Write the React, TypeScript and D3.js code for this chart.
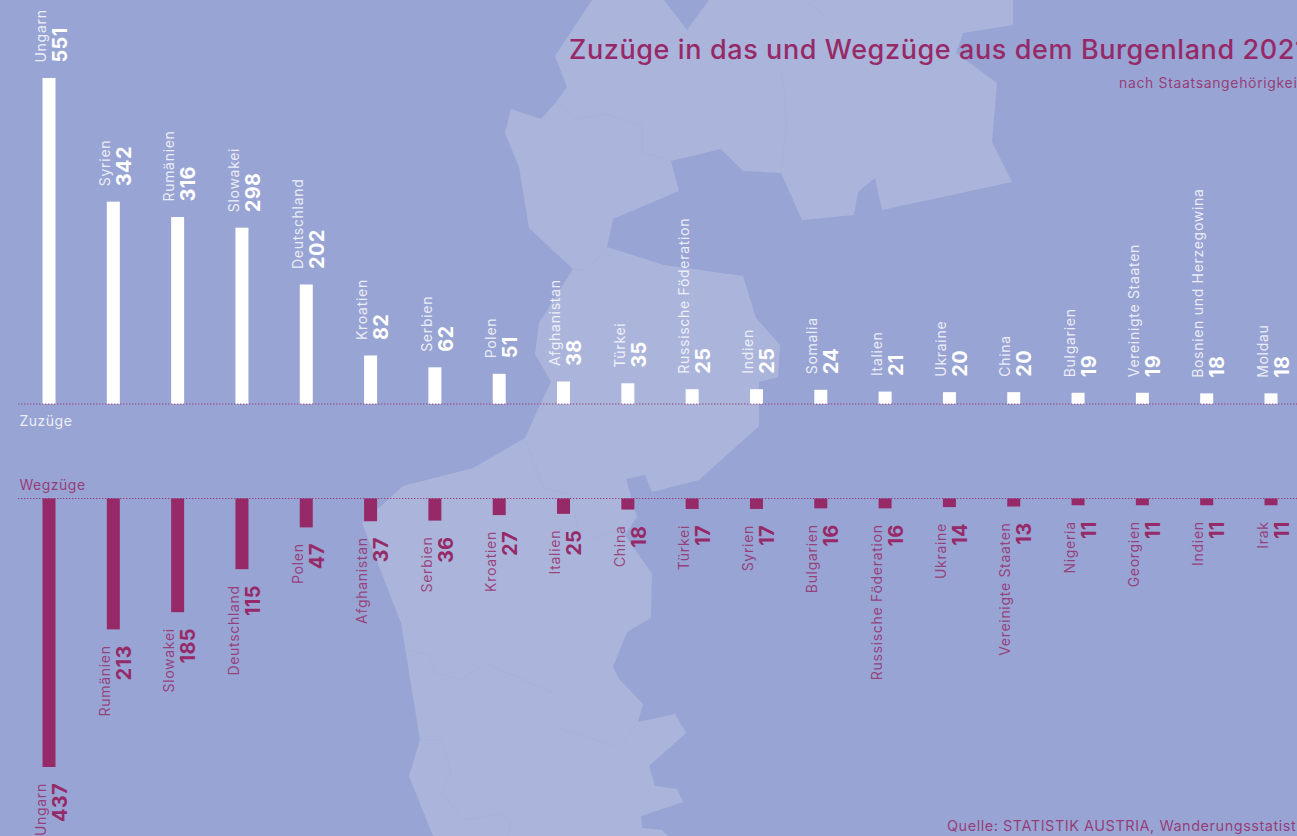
import React from 'react';
import * as d3 from 'd3';

const zuzugLaender = ['Ungarn', 'Syrien', 'Rumänien', 'Slowakei', 'Deutschland', 'Kroatien', 'Serbien', 'Polen', 'Afghanistan', 'Türkei', 'Russische Föderation', 'Indien', 'Somalia', 'Italien', 'Ukraine', 'China', 'Bulgarien', 'Vereinigte Staaten', 'Bosnien und Herzegowina', 'Moldau'];
const zuzugWerte = [551, 342, 316, 298, 202, 82, 62, 51, 38, 35, 25, 25, 24, 21, 20, 20, 19, 19, 18, 18];
const wegzugLaender = ['Ungarn', 'Rumänien', 'Slowakei', 'Deutschland', 'Polen', 'Afghanistan', 'Serbien', 'Kroatien', 'Italien', 'China', 'Türkei', 'Syrien', 'Bulgarien', 'Russische Föderation', 'Ukraine', 'Vereinigte Staaten', 'Nigeria', 'Georgien', 'Indien', 'Irak'];
const wegzugWerte = [437, 213, 185, 115, 47, 37, 36, 27, 25, 18, 17, 17, 16, 16, 14, 13, 11, 11, 11, 11];

// background map of the region, traced by hand
const karteNord: [number, number][] = [[592, 0], [555, 56], [567, 87], [557, 101], [541, 119], [511, 109], [505, 133], [519, 167], [529, 228], [573, 269], [588, 270], [607, 247], [613, 219], [679, 191], [671, 161], [721, 149], [743, 171], [781, 173], [802, 220], [854, 215], [858, 192], [875, 178], [882, 210], [1012, 182], [992, 142], [997, 83], [956, 53], [963, 33], [1013, 25], [1013, 0], [709, 0], [687, 30], [664, 0]];
const karteSued: [number, number][] = [[573, 269], [588, 270], [607, 247], [664, 265], [743, 276], [756, 318], [780, 345], [778, 377], [759, 382], [759, 426], [699, 480], [652, 492], [645, 475], [626, 479], [637, 517], [625, 535], [652, 574], [651, 618], [627, 632], [613, 667], [619, 679], [643, 704], [638, 722], [675, 714], [686, 733], [649, 766], [655, 786], [677, 789], [683, 802], [641, 816], [642, 828], [662, 830], [668, 836], [433, 836], [409, 776], [420, 740], [401, 623], [362, 523], [380, 507], [403, 486], [473, 468], [525, 438], [539, 407], [551, 382], [535, 354], [539, 323]];
const grenzen: [number, number][][] = [
  [[557, 101], [576, 119], [605, 114], [642, 125], [642, 152], [671, 161]],
  [[781, 173], [786, 130], [785, 95], [781, 71], [825, 17], [806, 0]],
  [[525, 438], [543, 488], [571, 495], [578, 530], [592, 539], [617, 529], [637, 517]],
  [[405, 649], [429, 655], [435, 672], [461, 680], [485, 663], [555, 694]],
  [[555, 727], [619, 747], [638, 722]],
  [[420, 740], [442, 740], [451, 772], [442, 792], [463, 820], [500, 814], [511, 821], [508, 836]],
];

const BLAU = '#98a4d3';
const HELL = '#abb5db';
const LILA = '#962a68';
const FONT = 'Inter, sans-serif';

const x = d3.scalePoint<number>().domain(d3.range(20)).range([49, 1271]);
const yOben = d3.scaleLinear().domain([0, 551]).range([404, 78]);
const yUnten = d3.scaleLinear().domain([0, 437]).range([498.5, 767]);
const linie = d3.line();
const BREITE = 13;

function Beschriftung(props: { x: number; y: number; name: string; wert: number; farbe: string; anchor: string }) {
  const { x, y, name, wert, farbe, anchor } = props;
  return (
    <g transform={`translate(${x},${y}) rotate(-90)`} textAnchor={anchor} fill={farbe}>
      <text y={-3.3} fontSize={14} letterSpacing={0.7} fillOpacity={0.82}>{name}</text>
      <text y={17.7} fontSize={20} fontWeight={700} letterSpacing={0.3}>{wert}</text>
    </g>
  );
}

export default function App() {
  return (
    <svg width={1297} height={836} style={{ position: 'absolute', left: 0, top: 0, background: BLAU, fontFamily: FONT }}>
      <path d={linie(karteNord) + 'Z'} fill={HELL} />
      <path d={linie(karteSued) + 'Z'} fill={HELL} />
      {grenzen.map((g, i) => <path key={i} d={linie(g)!} fill="none" stroke="#a5afd9" strokeWidth={0.6} />)}

      {zuzugWerte.map((d, i) => (
        <rect key={i} x={x(i)! - BREITE / 2} y={yOben(d)} width={BREITE} height={yOben(0) - yOben(d)} fill="#fff" />
      ))}
      {wegzugWerte.map((d, i) => (
        <rect key={i} x={x(i)! - BREITE / 2} y={yUnten(0)} width={BREITE} height={yUnten(d) - yUnten(0)} fill={LILA} />
      ))}

      <line x1={18} x2={1297} y1={yOben(0)} y2={yOben(0)} stroke={LILA} strokeDasharray="1.4 1.6" strokeOpacity={0.8} />
      <line x1={18} x2={1297} y1={yUnten(0)} y2={yUnten(0)} stroke={LILA} strokeDasharray="1.4 1.6" strokeOpacity={0.8} />

      {zuzugWerte.map((d, i) => (
        <Beschriftung key={i} x={x(i)!} y={yOben(d) - 15.5} name={zuzugLaender[i]} wert={d} farbe="#fff" anchor="start" />
      ))}
      {wegzugWerte.map((d, i) => (
        <Beschriftung key={i} x={x(i)!} y={yUnten(d) + 16} name={wegzugLaender[i]} wert={d} farbe={LILA} anchor="end" />
      ))}

      <text x={19.5} y={426} fontSize={14} letterSpacing={0.5} fill="#fff" fillOpacity={0.85}>Zuzüge</text>
      <text x={19.5} y={490} fontSize={14} letterSpacing={0.5} fill={LILA} fillOpacity={0.85}>Wegzüge</text>

      <text x={569} y={59} fontSize={27} fontWeight={500} letterSpacing={0.6} fill={LILA}>Zuzüge in das und Wegzüge aus dem Burgenland 2021</text>
      <text x={1119} y={88} fontSize={14} letterSpacing={0.65} fill={LILA} fillOpacity={0.85}>nach Staatsangehörigkeit</text>
      <text x={947} y={831} fontSize={14.5} letterSpacing={0.52} fill={LILA} fillOpacity={0.85}>Quelle: STATISTIK AUSTRIA, Wanderungsstatistik</text>
    </svg>
  );
}
